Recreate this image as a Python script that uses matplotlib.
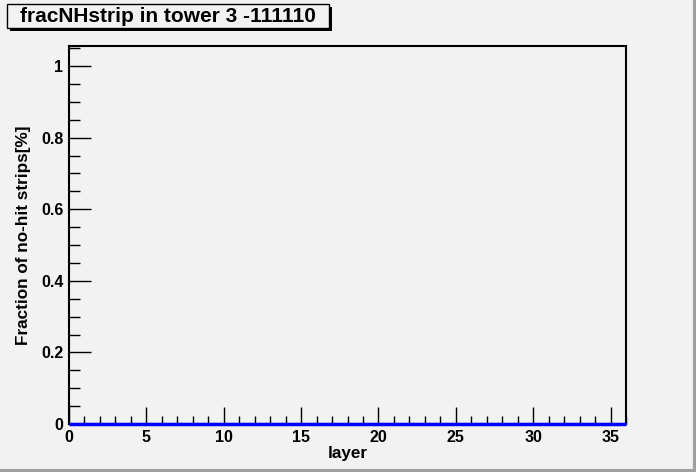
import matplotlib
matplotlib.use("Agg")
import matplotlib.pyplot as plt
from matplotlib.patches import Rectangle
import numpy as np

layers = list(range(36))
frac_nohit = [0.0] * 36
title = "fracNHstrip in tower 3 -111110"
xlabel = "layer"
ylabel = "Fraction of no-hit strips[%]"

W, H = 696, 472
fig = plt.figure(figsize=(W / 100, H / 100), dpi=100)
bg = "#f2f2f2"
fig.patch.set_facecolor(bg)
plt.rcParams['font.family'] = ['Liberation Sans', 'DejaVu Sans']

l, r, t, b = 69, 626, 46, 424
ax = fig.add_axes([l / W, 1 - b / H, (r - l) / W, (b - t) / H])
ax.set_facecolor(bg)

edges = np.arange(0, 37)
ax.stairs(frac_nohit, edges, color="#0000ff", linewidth=2.5, baseline=None,
          clip_on=False, zorder=5)

ax.set_xlim(0, 36)
ax.set_ylim(0, 1.056)
ax.set_xticks(np.arange(0, 36, 5))
ax.set_xticks(np.arange(0, 37, 1), minor=True)
ax.set_yticks([0, 0.2, 0.4, 0.6, 0.8, 1])
ax.set_yticklabels(["0", "0.2", "0.4", "0.6", "0.8", "1"])
ax.set_yticks(np.arange(0, 1.051, 0.05), minor=True)
ax.tick_params(which="both", direction="in", top=False, right=False, width=1, colors="black")
ax.tick_params(which="major", labelsize=11.5)
ax.tick_params(axis="x", which="major", length=12, pad=4)
ax.tick_params(axis="x", which="minor", length=6)
ax.tick_params(axis="y", which="major", length=16, pad=4)
ax.tick_params(axis="y", which="minor", length=8)
for lab in ax.get_xticklabels() + ax.get_yticklabels():
    lab.set_fontweight("bold")
for s in ax.spines.values():
    s.set_linewidth(1.5)
    s.set_color("black")

ax.set_xlabel(xlabel, fontsize=12.3, fontweight="bold", labelpad=1)
ax.set_ylabel(ylabel, fontsize=12.3, fontweight="bold", labelpad=7)

# frame border edges
fig.add_artist(plt.Line2D([0, 1], [1.5 / H, 1.5 / H], color="#a0a0a0", lw=3, transform=fig.transFigure))
fig.add_artist(plt.Line2D([1 - 1.5 / W, 1 - 1.5 / W], [0, 1], color="#a0a0a0", lw=3, transform=fig.transFigure))

# title box with shadow
bx0, by0, bx1, by1 = 7, 4, 329, 28
fig.add_artist(Rectangle(((bx0 + 3) / W, 1 - (by1 + 3) / H), (bx1 - bx0) / W, (by1 - by0) / H,
                         transform=fig.transFigure, facecolor="black", edgecolor="none"))
fig.add_artist(Rectangle((bx0 / W, 1 - by1 / H), (bx1 - bx0) / W, (by1 - by0) / H,
                         transform=fig.transFigure, facecolor=bg, edgecolor="black", lw=1))
fig.text((bx0 + bx1) / 2 / W, 1 - (by0 + by1) / 2 / H, title, ha="center", va="center",
         fontsize=15, fontweight="bold")

fig.savefig("out.png", dpi=100, facecolor=bg)
